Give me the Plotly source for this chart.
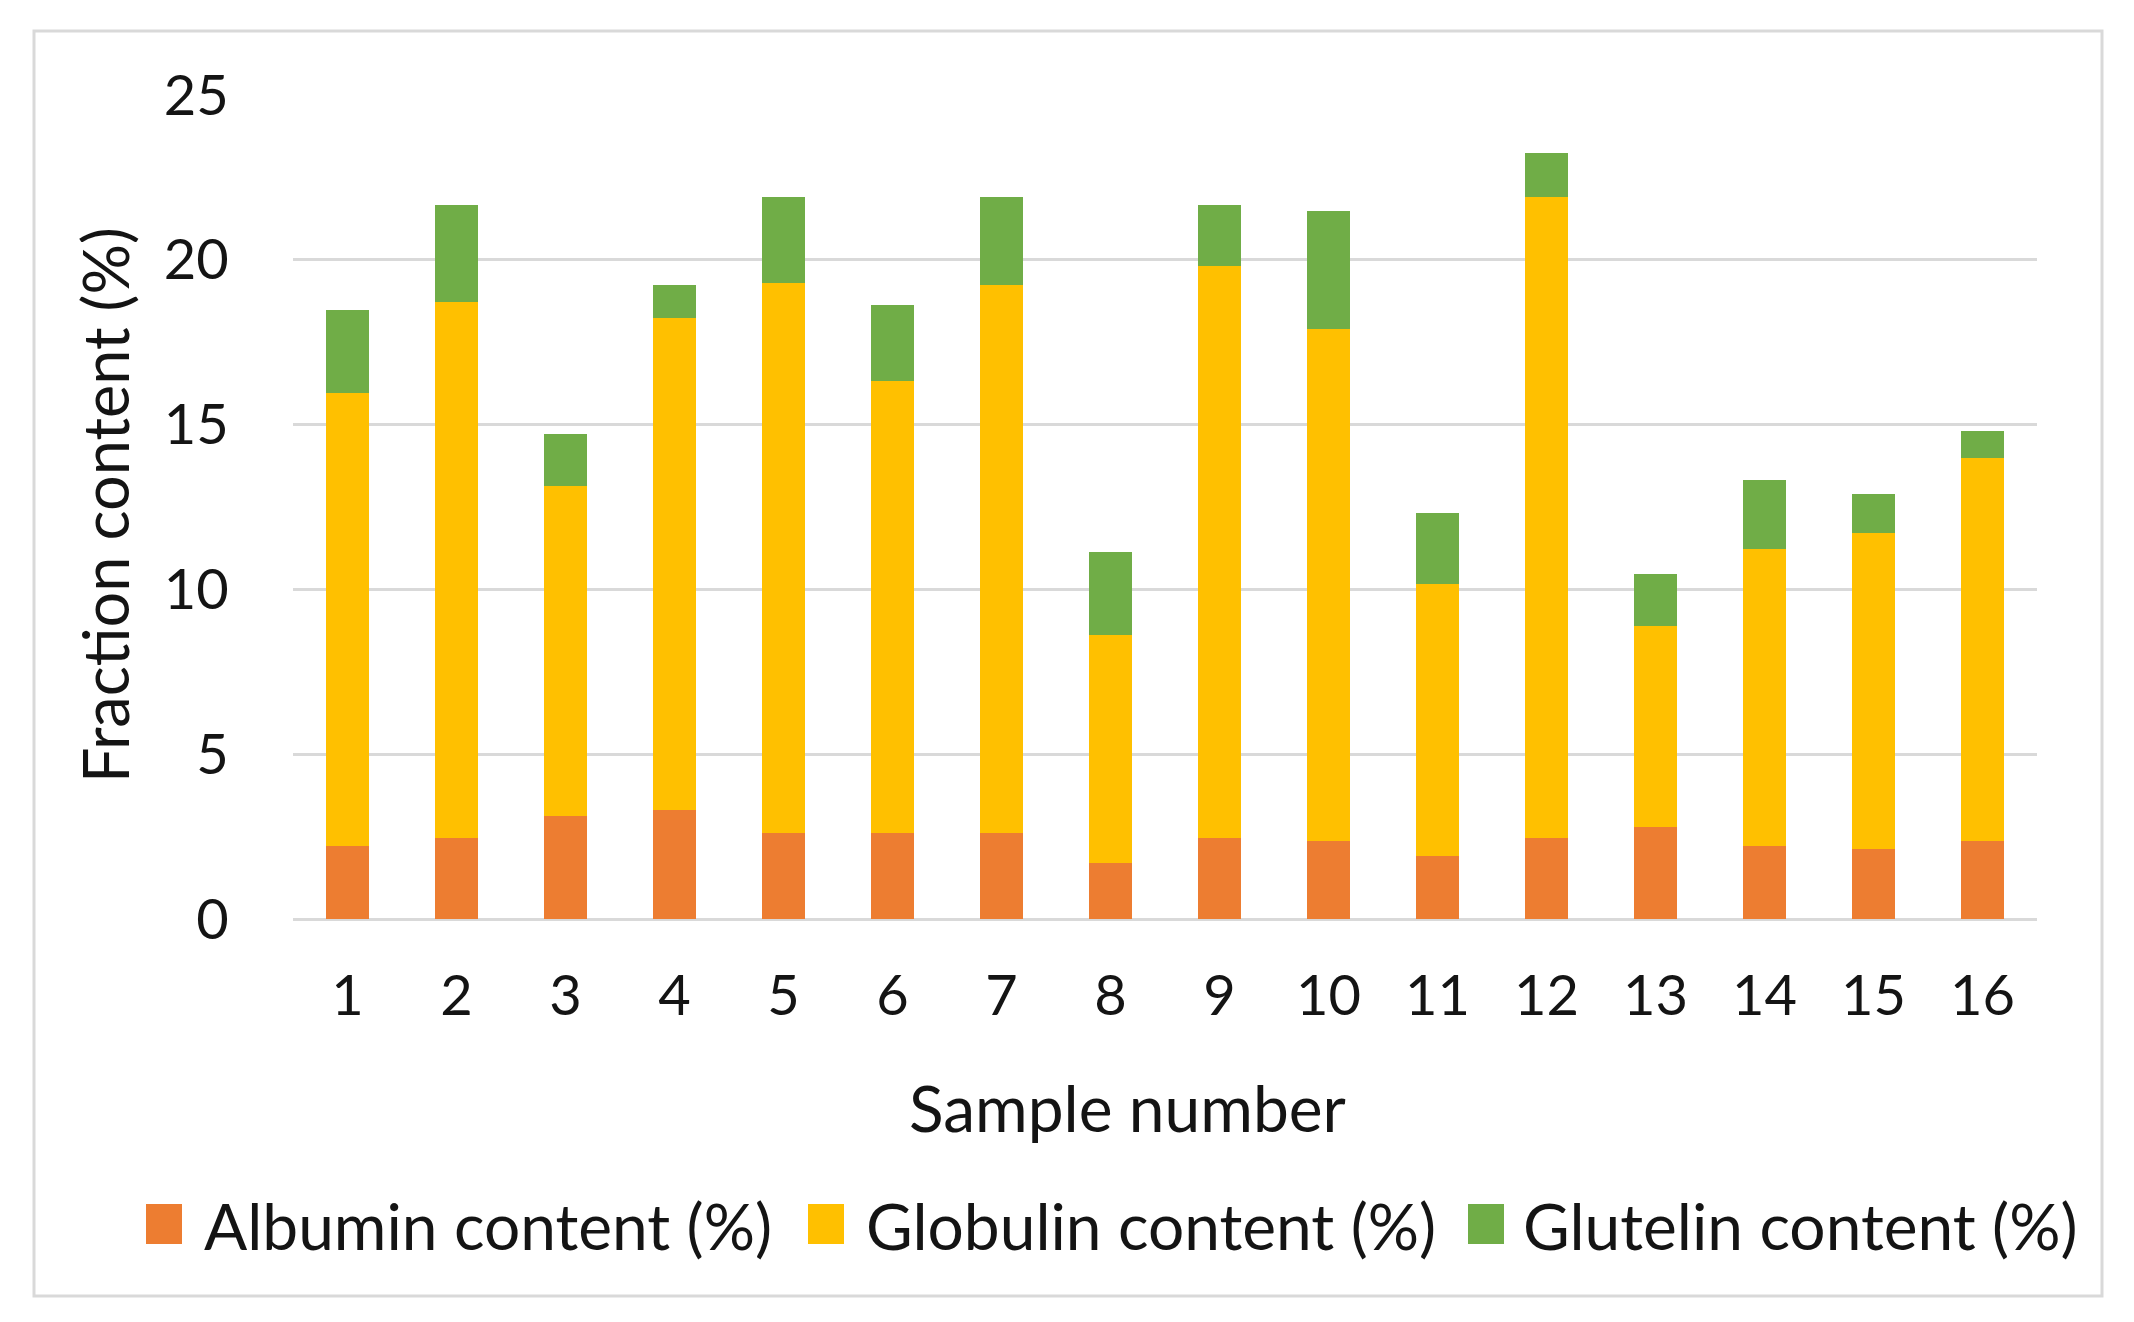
import plotly.graph_objects as go

samples = [str(i) for i in range(1, 17)]
albumin = [2.21, 2.47, 3.13, 3.30, 2.62, 2.62, 2.62, 1.70, 2.47, 2.38, 1.91, 2.47, 2.79, 2.21, 2.13, 2.38]
globulin = [13.76, 16.26, 10.02, 14.94, 16.69, 13.71, 16.61, 6.93, 17.35, 15.52, 8.24, 19.45, 6.10, 9.01, 9.59, 11.60]
glutelin = [2.51, 2.93, 1.58, 0.99, 2.61, 2.30, 2.69, 2.51, 1.84, 3.59, 2.16, 1.33, 1.58, 2.10, 1.17, 0.84]
series_names = ["Albumin content (%)", "Globulin content (%)", "Glutelin content (%)"]
colors = ["#ED7D31", "#FFC000", "#70AD47"]
y_ticks = [0, 5, 10, 15, 20, 25]

FONT = "Lato, 'Open Sans', sans-serif"
TXT = "#141414"
OFF = 8  # default page body margin
W_FIG, H_FIG = 2134 - 2 * OFF, 1322 - 2 * OFF
# plot area in page coordinates
L, R, T, B = 293, 2037, 95, 919
PW, PH = R - L, B - T


def px(x):
    return (x - L) / PW


def py(y):
    return (B - y) / PH


fig = go.Figure()
for name, vals, col in zip(series_names, [albumin, globulin, glutelin], colors):
    fig.add_trace(go.Bar(x=samples, y=vals, name=name, marker=dict(color=col, line=dict(width=0)),
                         showlegend=False))

shapes = [
    dict(type="rect", xref="paper", yref="paper", x0=px(34), x1=px(2102), y0=py(1296), y1=py(31),
         line=dict(color="#D9D9D9", width=3), fillcolor="rgba(0,0,0,0)", layer="below"),
]
annotations = [
    dict(text="Sample number", xref="paper", yref="paper", x=px(1127), y=py(1107),
         showarrow=False, font=dict(family=FONT, size=64, color=TXT), xanchor="center", yanchor="middle"),
    dict(text="Fraction content (%)", xref="paper", yref="paper", x=px(104), y=py(505), textangle=-90,
         showarrow=False, font=dict(family=FONT, size=63, color=TXT), xanchor="center", yanchor="middle"),
]
sw_x = [146, 808, 1468]
tx_x = [202, 864, 1521]
for name, col, sx, tx in zip(series_names, colors, sw_x, tx_x):
    shapes.append(dict(type="rect", xref="paper", yref="paper", x0=px(sx), x1=px(sx + 36),
                       y0=py(1244), y1=py(1204), fillcolor=col, line=dict(width=0)))
    annotations.append(dict(text=name, xref="paper", yref="paper", x=px(tx), y=py(1225),
                            showarrow=False, xanchor="left", yanchor="middle",
                            font=dict(family=FONT, size=64, color=TXT)))

fig.update_layout(
    width=W_FIG, height=H_FIG,
    margin=dict(l=L - OFF, r=W_FIG - (R - OFF), t=T - OFF, b=H_FIG - (B - OFF), pad=0),
    paper_bgcolor="white", plot_bgcolor="white",
    barmode="stack", bargap=0.6,
    font=dict(family=FONT, color=TXT),
    shapes=shapes, annotations=annotations,
    xaxis=dict(type="category", showgrid=False, zeroline=False, showline=False,
               ticks="outside", ticklen=28, tickcolor="rgba(0,0,0,0)",
               tickfont=dict(family=FONT, size=56, color=TXT)),
    yaxis=dict(range=[0, 25], tickvals=y_ticks, showgrid=True, gridcolor="#D9D9D9", gridwidth=3,
               zeroline=True, zerolinecolor="#D9D9D9", zerolinewidth=3, showline=False,
               ticks="outside", ticklen=52, tickcolor="rgba(0,0,0,0)",
               tickfont=dict(family=FONT, size=56, color=TXT)),
)

fig.write_html("out.html")
